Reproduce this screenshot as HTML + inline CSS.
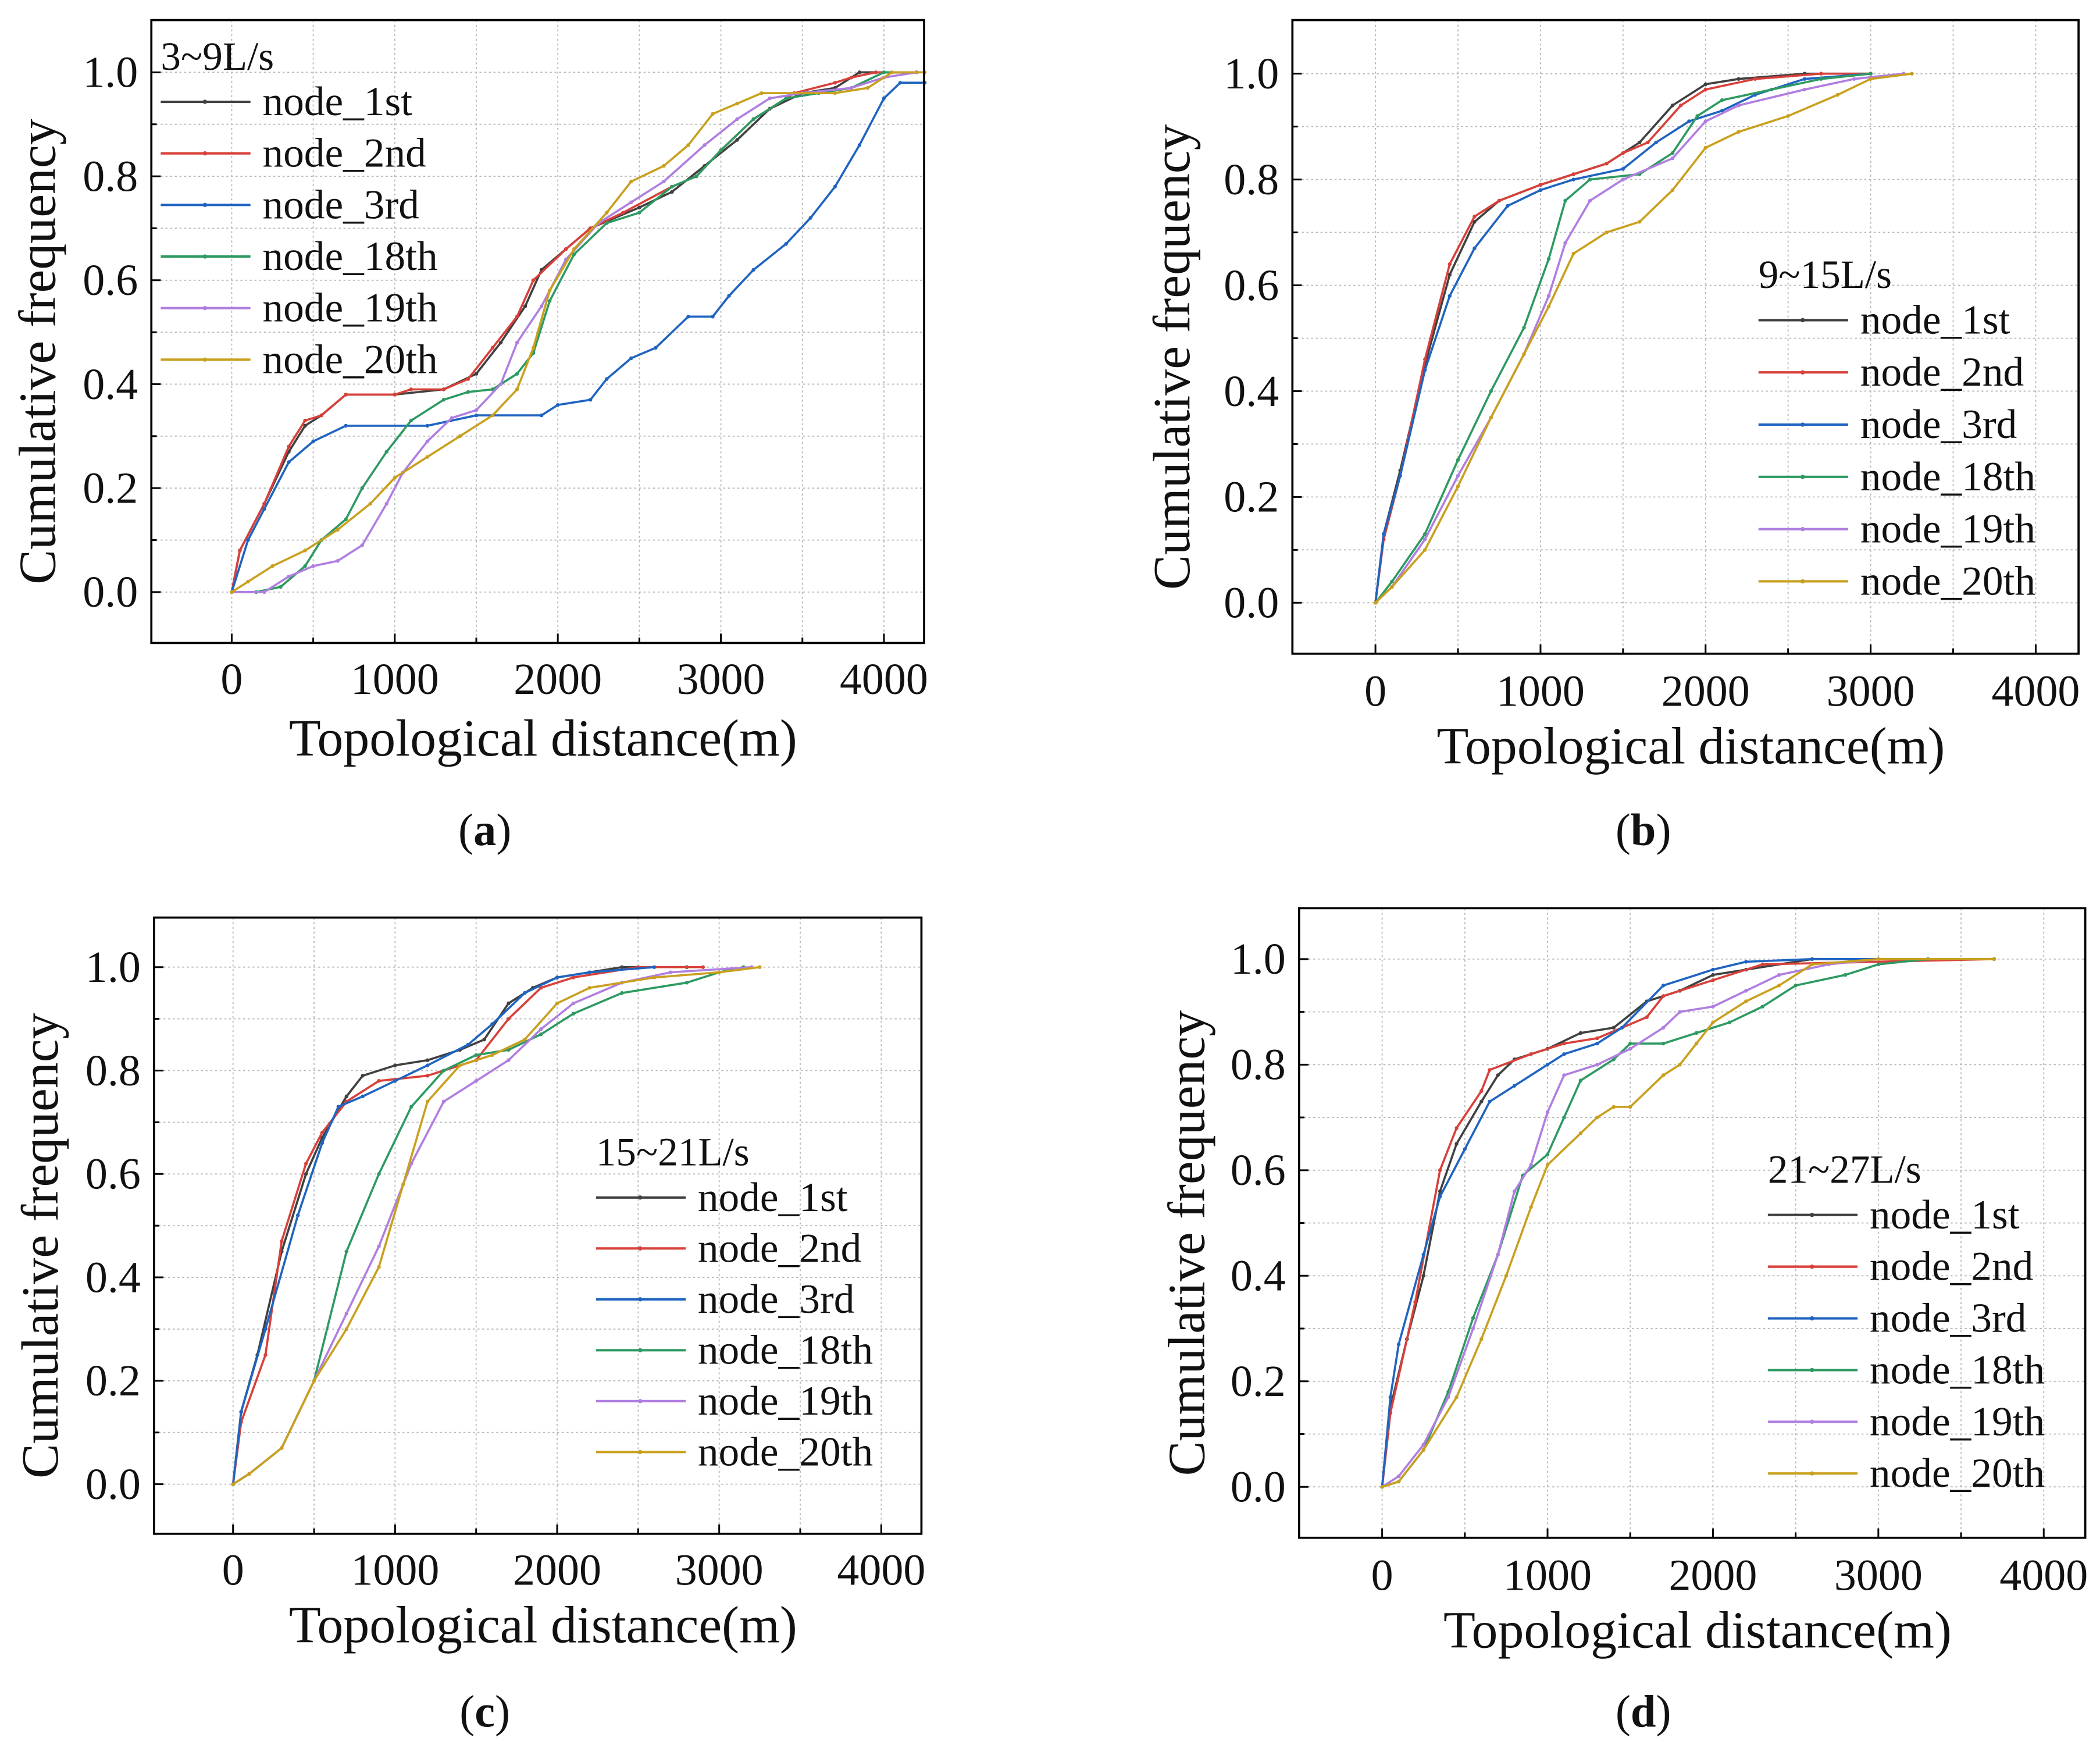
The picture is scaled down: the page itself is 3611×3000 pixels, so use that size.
<!DOCTYPE html>
<html><head><meta charset="utf-8"><style>
html,body{margin:0;padding:0;background:#fff}
svg{display:block}
text{font-family:"Liberation Serif","DejaVu Serif",serif;fill:#111}
</style></head><body>
<svg id="fig" width="3611" height="3000" viewBox="0 0 1568 1302.7" font-family="Liberation Serif, DejaVu Serif, serif" xmlns="http://www.w3.org/2000/svg"></svg>
<script>
const seriesNames=["node_1st","node_2nd","node_3rd","node_18th","node_19th","node_20th"];
const colors=["#404040","#d8403a","#1f64c0","#2e9a62","#b07ee0","#c9a01e"];
const xTicks=[0,1000,2000,3000,4000];
const yTicks=[0.0,0.2,0.4,0.6,0.8,1.0];
const panelLabels=["a","b","c","d"];
const flowLabels=["3~9L/s","9~15L/s","15~21L/s","21~27L/s"];
// panel a
const a1=[[0,0],[50,0.08],[200,0.17],[350,0.27],[450,0.32],[550,0.34],[700,0.38],[1000,0.38],[1300,0.39],[1500,0.42],[1650,0.48],[1800,0.55],[1900,0.62],[2050,0.66],[2200,0.70],[2500,0.74],[2700,0.77],[2900,0.82],[3100,0.87],[3300,0.93],[3500,0.96],[3700,0.97],[3850,1.0],[4200,1.0]];
const a2=[[0,0],[50,0.08],[200,0.17],[350,0.28],[450,0.33],[550,0.34],[700,0.38],[1000,0.38],[1100,0.39],[1300,0.39],[1450,0.41],[1600,0.47],[1750,0.53],[1850,0.6],[2050,0.66],[2200,0.70],[2400,0.73],[2700,0.78],[2850,0.80],[3000,0.85],[3200,0.91],[3450,0.96],[3700,0.98],[3800,0.99],[3950,1.0],[4200,1.0]];
const a3=[[0,0],[100,0.1],[200,0.16],[350,0.25],[500,0.29],[700,0.32],[1200,0.32],[1500,0.34],[1900,0.34],[2000,0.36],[2200,0.37],[2300,0.41],[2450,0.45],[2600,0.47],[2800,0.53],[2950,0.53],[3050,0.57],[3200,0.62],[3400,0.67],[3550,0.72],[3700,0.78],[3850,0.86],[4000,0.95],[4100,0.98],[4250,0.98]];
const a18=[[0,0],[150,0],[300,0.01],[450,0.05],[550,0.1],[700,0.14],[800,0.2],[950,0.27],[1100,0.33],[1300,0.37],[1450,0.385],[1600,0.39],[1750,0.42],[1850,0.46],[1950,0.56],[2100,0.65],[2300,0.71],[2500,0.73],[2700,0.78],[2850,0.80],[3000,0.85],[3200,0.91],[3400,0.95],[3600,0.96],[3800,0.97],[4000,1.0],[4200,1.0]];
const a19=[[0,0],[200,0],[350,0.03],[500,0.05],[650,0.06],[800,0.09],[950,0.17],[1050,0.23],[1200,0.29],[1350,0.335],[1500,0.35],[1650,0.4],[1750,0.48],[1900,0.55],[2050,0.64],[2250,0.71],[2450,0.75],[2650,0.79],[2900,0.86],[3100,0.91],[3300,0.95],[3500,0.96],[3800,0.97],[4000,0.99],[4200,1.0]];
const a20=[[0,0],[100,0.02],[250,0.05],[450,0.08],[650,0.12],[850,0.17],[1000,0.22],[1200,0.26],[1400,0.30],[1600,0.34],[1750,0.39],[1850,0.47],[1950,0.58],[2100,0.66],[2300,0.73],[2450,0.79],[2650,0.82],[2800,0.86],[2950,0.92],[3100,0.94],[3250,0.96],[3700,0.96],[3900,0.97],[4050,1.0],[4250,1.0]];
// panel b
const b1=[[0,0],[50,0.13],[150,0.25],[300,0.45],[450,0.62],[600,0.72],[750,0.76],[1000,0.79],[1200,0.81],[1400,0.83],[1600,0.87],[1800,0.94],[2000,0.98],[2200,0.99],[2600,1.0],[3000,1.0]];
const b2=[[0,0],[50,0.12],[150,0.24],[300,0.46],[450,0.64],[600,0.73],[750,0.76],[1000,0.79],[1200,0.81],[1400,0.83],[1500,0.85],[1650,0.87],[1850,0.94],[2000,0.97],[2300,0.99],[2700,1.0],[3000,1.0]];
const b3=[[0,0],[50,0.13],[150,0.24],[300,0.44],[450,0.58],[600,0.67],[800,0.75],[1000,0.78],[1200,0.80],[1500,0.82],[1700,0.87],[1900,0.91],[2100,0.93],[2300,0.96],[2600,0.99],[3000,1.0]];
const b18=[[0,0],[100,0.04],[300,0.13],[500,0.27],[700,0.40],[900,0.52],[1050,0.65],[1150,0.76],[1300,0.80],[1600,0.81],[1800,0.85],[1950,0.92],[2100,0.95],[2400,0.97],[2700,0.99],[3000,1.0]];
const b19=[[0,0],[100,0.03],[300,0.12],[500,0.24],[700,0.35],[900,0.47],[1050,0.58],[1150,0.68],[1300,0.76],[1500,0.80],[1800,0.84],[2000,0.91],[2200,0.94],[2600,0.97],[2900,0.99],[3200,1.0]];
const b20=[[0,0],[100,0.03],[300,0.1],[500,0.22],[700,0.35],[900,0.47],[1050,0.56],[1200,0.66],[1400,0.70],[1600,0.72],[1800,0.78],[2000,0.86],[2200,0.89],[2500,0.92],[2800,0.96],[3000,0.99],[3250,1.0]];
// panel c
const c1=[[0,0],[50,0.14],[150,0.25],[300,0.45],[450,0.6],[550,0.67],[700,0.75],[800,0.79],[1000,0.81],[1200,0.82],[1400,0.84],[1550,0.86],[1700,0.93],[1850,0.96],[2000,0.98],[2400,1.0],[2800,1.0]];
const c2=[[0,0],[50,0.12],[200,0.25],[300,0.47],[450,0.62],[550,0.68],[700,0.74],[900,0.78],[1200,0.79],[1500,0.82],[1700,0.9],[1900,0.96],[2100,0.98],[2500,1.0],[2900,1.0]];
const c3=[[0,0],[50,0.14],[200,0.3],[400,0.52],[550,0.66],[650,0.73],[800,0.75],[1000,0.78],[1200,0.81],[1450,0.85],[1600,0.89],[1800,0.95],[2000,0.98],[2200,0.99],[2600,1.0]];
const c18=[[0,0],[100,0.02],[300,0.07],[500,0.2],[700,0.45],[900,0.6],[1100,0.73],[1300,0.80],[1500,0.83],[1700,0.84],[1900,0.87],[2100,0.91],[2400,0.95],[2800,0.97],[3000,0.99],[3150,1.0]];
const c19=[[0,0],[100,0.02],[300,0.07],[500,0.2],[700,0.33],[900,0.46],[1100,0.62],[1300,0.74],[1500,0.78],[1700,0.82],[1900,0.88],[2100,0.93],[2400,0.97],[2700,0.99],[3200,1.0]];
const c20=[[0,0],[100,0.02],[300,0.07],[500,0.2],[700,0.3],[900,0.42],[1050,0.58],[1200,0.74],[1400,0.81],[1600,0.83],[1800,0.86],[2000,0.93],[2200,0.96],[2600,0.98],[3000,0.99],[3250,1.0]];
// panel d
const d1=[[0,0],[50,0.15],[150,0.28],[250,0.4],[350,0.56],[450,0.65],[600,0.73],[700,0.78],[800,0.81],[1000,0.83],[1200,0.86],[1400,0.87],[1600,0.92],[1800,0.94],[2000,0.97],[2200,0.98],[2600,1.0],[3700,1.0]];
const d2=[[0,0],[50,0.14],[200,0.35],[350,0.6],[450,0.68],[600,0.75],[650,0.79],[900,0.82],[1100,0.84],[1300,0.85],[1600,0.89],[1700,0.93],[2000,0.96],[2300,0.99],[3700,1.0]];
const d3=[[0,0],[50,0.17],[100,0.27],[250,0.44],[350,0.55],[500,0.64],[650,0.73],[800,0.76],[1000,0.80],[1100,0.82],[1300,0.84],[1450,0.87],[1700,0.95],[2000,0.98],[2200,0.995],[2600,1.0],[3000,1.0]];
const d18=[[0,0],[100,0.01],[250,0.07],[400,0.18],[550,0.32],[700,0.44],[850,0.59],[1000,0.63],[1100,0.7],[1200,0.77],[1400,0.81],[1500,0.84],[1700,0.84],[1900,0.86],[2100,0.88],[2300,0.91],[2500,0.95],[2800,0.97],[3000,0.99],[3300,1.0],[3700,1.0]];
const d19=[[0,0],[100,0.02],[250,0.08],[400,0.17],[550,0.3],[700,0.44],[800,0.56],[900,0.61],[1000,0.71],[1100,0.78],[1300,0.8],[1500,0.83],[1700,0.87],[1800,0.9],[2000,0.91],[2200,0.94],[2400,0.97],[2700,0.99],[3000,1.0]];
const d20=[[0,0],[100,0.01],[250,0.07],[450,0.17],[600,0.28],[750,0.40],[900,0.53],[1000,0.61],[1200,0.67],[1300,0.70],[1400,0.72],[1500,0.72],[1700,0.78],[1800,0.80],[1900,0.84],[2000,0.88],[2200,0.92],[2400,0.95],[2600,0.99],[3000,1.0],[3700,1.0]];
const panelData=[[a1,a2,a3,a18,a19,a20],[b1,b2,b3,b18,b19,b20],[c1,c2,c3,c18,c19,c20],[d1,d2,d3,d18,d19,d20]];

const geo=[
 {L:113,T:15,R:690,B:480,x0:173,x4:660,y0:442,y1:54,tickY:507,titleY:551,capX:362,capY:620,yTitleX:28,leg:[120,42,38.5]},
 {L:965,T:15,R:1552,B:488,x0:1027,x4:1520,y0:450,y1:55,tickY:516,titleY:557,capX:1227,capY:620,yTitleX:875,leg:[1313,205,39]},
 {L:115,T:685,R:688,B:1145,x0:174,x4:658,y0:1108,y1:722,tickY:1172,titleY:1213,capX:362,capY:1278,yTitleX:30,leg:[445,860,38]},
 {L:970,T:678,R:1557,B:1148,x0:1032,x4:1526,y0:1110,y1:716,tickY:1176,titleY:1217,capX:1227,capY:1278,yTitleX:886,leg:[1320,873,38.6]}
];
const NS="http://www.w3.org/2000/svg";
const svg=document.getElementById('fig');
function mk(tag,attrs,parent,txt){const e=document.createElementNS(NS,tag);for(const k in attrs)e.setAttribute(k,attrs[k]);if(txt!==undefined)e.textContent=txt;parent.appendChild(e);return e;}

geo.forEach((g,pi)=>{
 const grp=mk('g',{},svg);
 
 
 const sx=v=>g.x0+(g.x4-g.x0)*v/4000;
 const sy=v=>g.y0+(g.y1-g.y0)*v;
 const grid=mk('g',{stroke:'#b8b8b8','stroke-width':0.8,'stroke-dasharray':'1.5,2'},grp);
 
 
 for(let v=0;v<=4000;v+=500){const x=sx(v);if(x>g.L&&x<g.R)mk('line',{x1:x,x2:x,y1:g.T,y2:g.B},grid);}
 for(let k=0;k<=10;k++){const y=sy(k/10);mk('line',{x1:g.L,x2:g.R,y1:y,y2:y},grid);}
 const tk=mk('g',{stroke:'#000','stroke-width':1.3},grp);
 for(let v=0;v<=4000;v+=500){const x=sx(v);if(x>g.L&&x<g.R)mk('line',{x1:x,x2:x,y1:g.B,y2:g.B-(v%1000?4:7)},tk);}
 for(let k=0;k<=10;k++){const y=sy(k/10);mk('line',{x1:g.L,x2:g.L+(k%2?4:7),y1:y,y2:y},tk);}
 panelData[pi].forEach((pts,si)=>{
  const s=mk('g',{},grp);
  
  
  mk('polyline',{points:pts.map(p=>sx(p[0])+','+sy(p[1])).join(' '),fill:'none',stroke:colors[si],'stroke-width':1.6,'stroke-linejoin':'round'},s);
  pts.forEach(p=>{const c=mk('circle',{cx:sx(p[0]),cy:sy(p[1]),r:1.4,fill:colors[si]},s);
   
   });
 });
 const fr=mk('rect',{x:g.L,y:g.T,width:g.R-g.L,height:g.B-g.T,fill:'none',stroke:'#000','stroke-width':1.6},grp);
 
 
 xTicks.forEach(v=>{const t=mk('text',{x:sx(v),y:g.tickY+11,'text-anchor':'middle','font-size':33},grp,String(v));
  
  });
 yTicks.forEach(v=>{const t=mk('text',{x:g.L-10,y:sy(v)+11,'text-anchor':'end','font-size':33},grp,v.toFixed(1));
  
  });
 const xt=mk('text',{x:(g.L+g.R)/2+4,y:g.titleY+13,'text-anchor':'middle','font-size':39},grp,'Topological distance(m)');
 
 
 const cy=(g.T+g.B)/2+15;
 const yt=mk('text',{x:g.yTitleX+13,y:cy,'text-anchor':'middle','font-size':39,transform:`rotate(-90 ${g.yTitleX+13} ${cy})`},grp,'Cumulative frequency');
 
 
 const cap=mk('text',{x:g.capX,y:g.capY+11,'text-anchor':'middle','font-size':34},grp);
 
 
 mk('tspan',{},cap,'(');mk('tspan',{'font-weight':'bold'},cap,panelLabels[pi]);mk('tspan',{},cap,')');
 const [lx,ly,dy]=g.leg;
 const lg=mk('g',{},grp);
 
 
 mk('text',{x:lx,y:ly+10,'font-size':30},lg,flowLabels[pi]);
 seriesNames.forEach((n,si)=>{
  const y=ly+34+dy*si;
  const e=mk('g',{},lg);
  
  
  mk('line',{x1:lx,x2:lx+67,y1:y,y2:y,stroke:colors[si],'stroke-width':1.8},e);
  mk('circle',{cx:lx+33,cy:y,r:1.6,fill:colors[si]},e);
  mk('text',{x:lx+76,y:y+10,'font-size':31},e,n);
 });
});
</script>
</body></html>
